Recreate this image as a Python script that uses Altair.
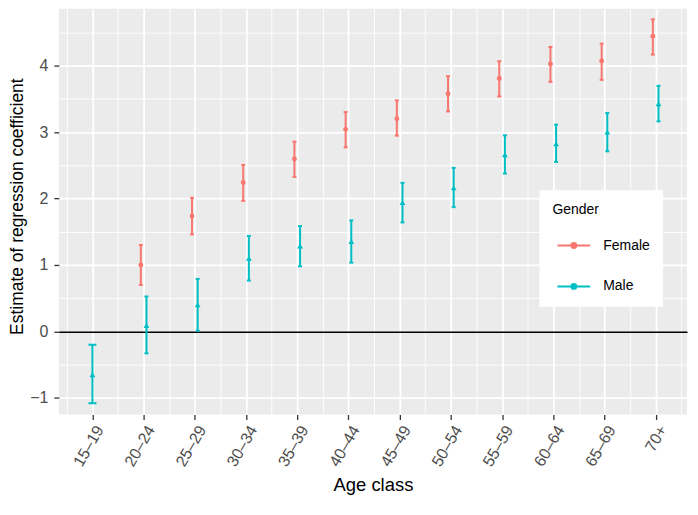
import json
import altair as alt
import pandas as pd

ages = ["15–19", "20–24", "25–29", "30–34", "35–39", "40–44",
        "45–49", "50–54", "55–59", "60–64", "65–69", "70+"]

female_ages = ages[1:]
female_est = [1.00, 1.735, 2.24, 2.595, 3.04, 3.20, 3.575, 3.805, 4.025, 4.07, 4.44]
female_lo = [0.70, 1.46, 1.965, 2.325, 2.77, 2.945, 3.31, 3.535, 3.755, 3.785, 4.165]
female_hi = [1.30, 2.01, 2.505, 2.855, 3.30, 3.475, 3.84, 4.065, 4.28, 4.33, 4.695]

male_ages = ages
male_est = [-0.65, 0.09, 0.40, 1.10, 1.285, 1.355, 1.94, 2.16, 2.66, 2.825, 3.00, 3.425]
male_lo = [-1.08, -0.33, 0.01, 0.765, 0.98, 1.035, 1.64, 1.87, 2.375, 2.55, 2.71, 3.16]
male_hi = [-0.20, 0.525, 0.79, 1.435, 1.585, 1.67, 2.235, 2.46, 2.95, 3.11, 3.285, 3.695]

genders = ["Female", "Male"]
colors = ["#F8766D", "#00BFC4"]

rows = []
for a, e, l, h in zip(female_ages, female_est, female_lo, female_hi):
    rows.append(dict(age=a, gender="Female", est=e, lo=l, hi=h))
for a, e, l, h in zip(male_ages, male_est, male_lo, male_hi):
    rows.append(dict(age=a, gender="Male", est=e, lo=l, hi=h))
df = pd.DataFrame(rows)

ages_js = json.dumps(ages, ensure_ascii=False)
FONT = "Liberation Sans"
minor = "datum.value % 1 !== 0"

xscale = alt.Scale(domain=[-0.656, 11.612], nice=False, zero=False)
yscale = alt.Scale(domain=[-1.25, 4.855], nice=False, zero=False)

xaxis = alt.Axis(
    values=[-0.5 + 0.5 * i for i in range(25)],
    labelExpr=f"datum.value % 1 === 0 ? {ages_js}[round(datum.value)] : ''",
    labelAngle=-60, labelAlign="right", labelBaseline="top",
    labelFontSize=16, labelColor="#4D4D4D", labelPadding=3, labelFont=FONT,
    labelOverlap=False, labelFlush=False,
    tickColor={"condition": {"test": minor, "value": "transparent"}, "value": "#333333"},
    tickSize=5, tickWidth=1.3,
    gridColor="white",
    gridWidth={"condition": {"test": minor, "value": 0.9}, "value": 1.8},
    domain=False,
    title="Age class", titleFontSize=18.5, titleFontWeight="normal",
    titleColor="black", titleFont=FONT, titleY=76, titleBaseline="alphabetic",
)

yaxis = alt.Axis(
    values=[-1 + 0.5 * i for i in range(12)],
    labelExpr="datum.value % 1 === 0 ? replace(format(datum.value, 'd'), '-', '\u2212') : ''",
    labelFontSize=16, labelColor="#4D4D4D", labelPadding=6, labelFont=FONT,
    labelOverlap=False, labelFlush=False,
    tickColor={"condition": {"test": minor, "value": "transparent"}, "value": "#333333"},
    tickSize=5, tickWidth=1.3,
    gridColor={"condition": {"test": "datum.value === 0", "value": "black"}, "value": "white"},
    gridWidth={"condition": [{"test": "datum.value === 0", "value": 1.4},
                             {"test": minor, "value": 0.9}], "value": 1.8},
    domain=False,
    title="Estimate of regression coefficient", titleFontSize=17.5,
    titleFontWeight="normal", titleColor="black", titleFont=FONT,
    titleX=-36, titleY=198, titleBaseline="alphabetic",
)

LEG_PATH = ("M-0.8,0L0.8,0M-0.12,0A0.12,0.12 0 1,0 0.12,0A0.12,0.12 0 1,0 -0.12,0Z")

legend = alt.Legend(
    title="Gender", orient="none", legendX=482, legendY=182,
    fillColor="white", padding=13,
    titleFontSize=14, titleFontWeight="normal", titleColor="black", titleFont=FONT,
    titlePadding=7,
    labelFontSize=14, labelColor="black", labelFont=FONT, labelOffset=8,
    symbolType=LEG_PATH, symbolSize=1681, symbolStrokeWidth=2, symbolOpacity=1,
    rowPadding=12,
)

cscale = alt.Scale(domain=genders, range=colors)

base = alt.Chart(df).transform_calculate(
    idx=f"indexof({ages_js}, datum.age)"
).transform_calculate(
    xpos="datum.idx + (datum.age === '15–19' ? 0 : (datum.gender === 'Female' ? -0.055 : 0.055))"
)

X = alt.X("xpos:Q", scale=xscale, axis=xaxis)
C_nolegend = alt.Color("gender:N", scale=cscale, legend=None)

bars = base.mark_rule(strokeWidth=2).encode(
    x=X,
    y=alt.Y("lo:Q", scale=yscale, axis=yaxis),
    y2="hi:Q",
    color=alt.Color("gender:N", scale=cscale, legend=legend),
)

cap_size = alt.condition("datum.age === '15–19'", alt.value(8), alt.value(4))

caps_lo = base.mark_tick(orient="horizontal", thickness=2, opacity=1).encode(
    x=X,
    y=alt.Y("lo:Q", scale=yscale, axis=yaxis),
    color=C_nolegend,
    size=cap_size,
)
caps_hi = base.mark_tick(orient="horizontal", thickness=2, opacity=1).encode(
    x=X,
    y=alt.Y("hi:Q", scale=yscale, axis=yaxis),
    color=C_nolegend,
    size=cap_size,
)

pts_f = base.transform_filter("datum.gender === 'Female'").mark_point(
    filled=True, opacity=1, shape="circle", size=24
).encode(
    x=X,
    y=alt.Y("est:Q", scale=yscale, axis=yaxis),
    color=C_nolegend,
)
pts_m = base.transform_filter("datum.gender === 'Male'").mark_point(
    filled=True, opacity=1, shape="triangle-up", size=34
).encode(
    x=X,
    y=alt.Y("est:Q", scale=yscale, axis=yaxis),
    color=C_nolegend,
)

chart = alt.layer(bars, caps_lo, caps_hi, pts_f, pts_m).properties(
    width=630, height=407,
    autosize="none",
    padding={"left": 51, "top": 0, "right": 3, "bottom": 80},
).configure(font=FONT).configure_view(
    fill="#EBEBEB", stroke=None
)

chart.save("out.html", embed_options={"renderer": "svg", "actions": False})
